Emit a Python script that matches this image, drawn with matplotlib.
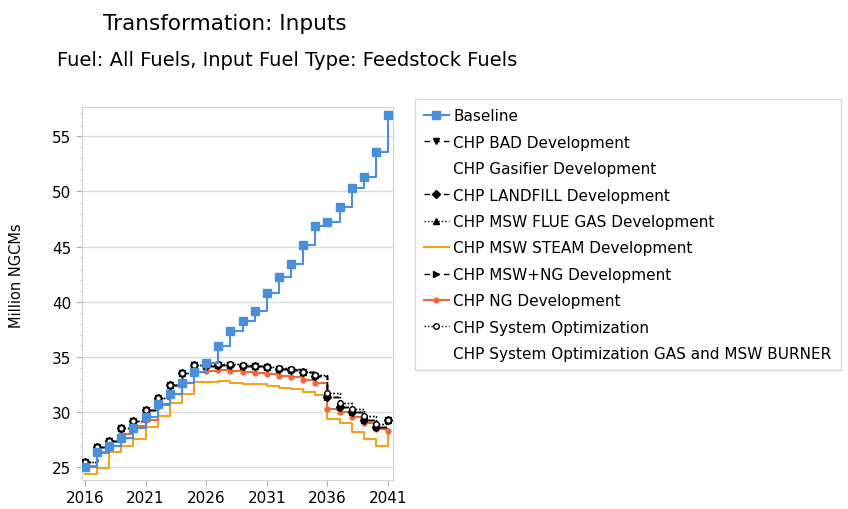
import matplotlib
matplotlib.use("Agg")
import matplotlib.pyplot as plt
from matplotlib.ticker import MultipleLocator
import numpy as np

years = list(range(2016, 2042))

baseline = [25.0, 26.36, 26.9, 27.6, 28.55, 29.5, 30.75, 31.65, 32.6, 33.65,
            34.4, 35.95, 37.35, 38.25, 39.2, 40.8, 42.25, 43.4, 45.1, 46.85,
            47.2, 48.55, 50.3, 51.3, 53.55, 56.95]
chp_black = [25.45, 26.8, 27.35, 28.55, 29.15, 30.15, 31.3, 32.45, 33.5, 34.3,
             34.2, 34.3, 34.3, 34.2, 34.15, 34.05, 33.9, 33.8, 33.6, 33.3,
             31.35, 30.45, 30.0, 29.3, 28.65, 29.25]
chp_dotted = [25.45, 26.8, 27.35, 28.55, 29.15, 30.15, 31.3, 32.45, 33.5, 34.3,
              34.25, 34.35, 34.35, 34.25, 34.2, 34.1, 33.95, 33.85, 33.65, 33.35,
              31.75, 30.8, 30.3, 29.6, 28.9, 29.3]
msw_steam = [24.4, 24.95, 26.4, 26.95, 27.55, 28.6, 29.6, 30.85, 31.6, 32.75,
             32.75, 32.8, 32.65, 32.55, 32.5, 32.35, 32.2, 32.05, 31.85, 31.55,
             29.4, 28.95, 28.15, 27.55, 26.9, 27.9]
ng_dev = [25.1, 26.25, 26.95, 27.95, 28.7, 29.25, 30.6, 31.6, 32.6, 33.65,
          33.7, 33.8, 33.7, 33.6, 33.55, 33.45, 33.3, 33.2, 32.9, 32.6,
          30.3, 29.95, 29.5, 29.0, 28.45, 28.3]

blue = "#4A8FDB"
steam_col = "#F2A31B"
ng_col = "#F2673A"

fig = plt.figure(figsize=(8.48, 5.10), dpi=100)
plt.rcParams['font.family'] = ['DejaVu Sans']
ax = fig.add_axes([81.7/848, 1-481/510, (393-81.7)/848, (481-108.3)/510])

ax.plot(years, baseline, drawstyle='steps-post', color=blue, lw=1.5,
        marker='s', ms=6, label='Baseline', zorder=5)
ax.plot(years, chp_black, drawstyle='steps-post', color='black', lw=1, ls=(0, (4, 3)),
        marker='v', ms=4.5, label='CHP BAD Development', zorder=4)
ax.plot([], [], ls='none', label='CHP Gasifier Development')
ax.plot(years, chp_black, drawstyle='steps-post', color='black', lw=1, ls=(0, (4, 3)),
        marker='D', ms=4, label='CHP LANDFILL Development', zorder=4)
ax.plot(years, chp_dotted, drawstyle='steps-post', color='black', lw=1, ls=(0, (1, 1.5)),
        marker='^', ms=4.5, label='CHP MSW FLUE GAS Development', zorder=4)
ax.plot(years, msw_steam, drawstyle='steps-post', color=steam_col, lw=1.5,
        label='CHP MSW STEAM Development', zorder=3)
ax.plot(years, chp_black, drawstyle='steps-post', color='black', lw=1, ls=(0, (4, 3)),
        marker='>', ms=4.5, label='CHP MSW+NG Development', zorder=4)
ax.plot(years, ng_dev, drawstyle='steps-post', color=ng_col, lw=1.5,
        marker='o', ms=3.5, label='CHP NG Development', zorder=3)
ax.plot(years, chp_dotted, drawstyle='steps-post', color='black', lw=1, ls=(0, (1, 1.5)),
        marker='o', ms=4, mfc='white', label='CHP System Optimization', zorder=4)
ax.plot([], [], ls='none', label='CHP System Optimization GAS and MSW BURNER')

ax.set_xlim(2015.73, 2041.41)
ax.set_ylim(23.82, 57.64)
ax.set_xticks([2016, 2021, 2026, 2031, 2036, 2041])
ax.set_yticks([25, 30, 35, 40, 45, 50, 55])
ax.yaxis.set_minor_locator(MultipleLocator(1))
ax.grid(axis='y', which='major', color='#dcdcdc', lw=1)
ax.set_axisbelow(True)
for s in ax.spines.values():
    s.set_color('#d0d0d0')
ax.tick_params(axis='both', which='major', colors='#b0b0b0', labelcolor='black',
               labelsize=11, length=4)
ax.tick_params(axis='y', which='minor', colors='#d0d0d0', length=2)

fig.text(17/848, 1-276/510, 'Million NGCMs', rotation=90, ha='center', va='center',
         fontsize=10.5)
fig.text(103/848, 1-24/510, 'Transformation: Inputs', ha='left', va='center', fontsize=15.5)
fig.text(57/848, 1-60/510, 'Fuel: All Fuels, Input Fuel Type: Feedstock Fuels',
         ha='left', va='center', fontsize=14)

leg = fig.legend(loc='upper left', bbox_to_anchor=(415/848, 1-100/510), fontsize=11,
                 frameon=True, fancybox=False, handlelength=1.6, handletextpad=0.3,
                 labelspacing=0.75, borderpad=0.6, borderaxespad=0)
leg.get_frame().set_edgecolor('#d0d0d0')
leg.get_frame().set_linewidth(1)

fig.savefig('out.png', dpi=100)
